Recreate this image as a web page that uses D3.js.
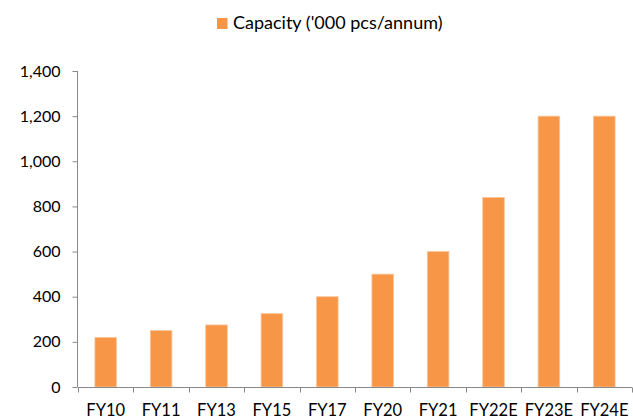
<!DOCTYPE html>
<html>
<head>
<meta charset="utf-8">
<script src="https://cdn.jsdelivr.net/npm/d3@7"></script>
<style>
  html, body { margin: 0; padding: 0; background: #fff; }
  svg text { font-family: Lato, "Liberation Sans", sans-serif; fill: #000; }
</style>
</head>
<body>
<svg id="chart" width="633" height="419"></svg>
<script>
// Production capacity by fiscal year ('000 pieces per annum)
const categories = ["FY10", "FY11", "FY13", "FY15", "FY17", "FY20", "FY21", "FY22E", "FY23E", "FY24E"];
const capacity = [220, 250, 275, 325, 400, 500, 600, 840, 1200, 1200];
const yTicks = [0, 200, 400, 600, 800, 1000, 1200, 1400];
const seriesName = "Capacity ('000 pcs/annum)";

const barColor = "#F79646";
const axisColor = "#898989";

const svg = d3.select("#chart");
const margin = { left: 78, right: 1, top: 71, bottom: 32 };
const width = 633, height = 419;

const x = d3.scaleBand()
  .domain(categories)
  .range([margin.left, width - margin.right])
  .paddingInner(0.61)
  .paddingOuter(0.305);

const y = d3.scaleLinear()
  .domain([0, 1400])
  .range([height - margin.bottom, margin.top]);

// Bars
svg.append("g")
  .selectAll("rect")
  .data(categories)
  .join("rect")
  .attr("x", d => x(d))
  .attr("y", (d, i) => y(capacity[i]))
  .attr("width", x.bandwidth())
  .attr("height", (d, i) => y(0) - y(capacity[i]))
  .attr("fill", barColor)
  .attr("stroke", "#FBC79C")
  .attr("stroke-width", 0.8);

// Y axis
const yAxis = svg.append("g")
  .attr("transform", `translate(${margin.left - 0.5},0)`)
  .call(d3.axisLeft(y).tickValues(yTicks).tickFormat(d3.format(",")).tickSize(5).tickPadding(12));
yAxis.select(".domain").attr("stroke", axisColor).attr("d", `M0,${y(1400)}V${y(0)}`);
yAxis.selectAll(".tick line").attr("stroke", axisColor);
yAxis.selectAll(".tick text").attr("font-size", 16).style("font-family", "Lato, 'Liberation Sans', sans-serif");

// X axis with tick marks on category boundaries
const xAxis = svg.append("g")
  .attr("transform", `translate(0,${y(0) + 0.5})`)
  .call(d3.axisBottom(x).tickSize(0).tickPadding(16.5));
xAxis.select(".domain").attr("stroke", axisColor).attr("d", `M${margin.left},0H${width - margin.right}`);
xAxis.selectAll(".tick text").attr("font-size", 16.5).style("font-family", "Lato, 'Liberation Sans', sans-serif");

const step = x.step();
const boundaries = d3.range(categories.length + 1).map(i => margin.left + i * step);
xAxis.selectAll(".bound")
  .data(boundaries)
  .join("line")
  .attr("class", "bound")
  .attr("x1", d => Math.round(d) + 0.5)
  .attr("x2", d => Math.round(d) + 0.5)
  .attr("y1", 0)
  .attr("y2", 5)
  .attr("stroke", axisColor);

// Legend
const legend = svg.append("g").attr("transform", "translate(217,18)");
legend.append("rect")
  .attr("width", 10.5).attr("height", 11)
  .attr("fill", barColor);
legend.append("text")
  .attr("x", 16).attr("y", 11)
  .attr("font-size", 18)
  .text(seriesName);
</script>
</body>
</html>
